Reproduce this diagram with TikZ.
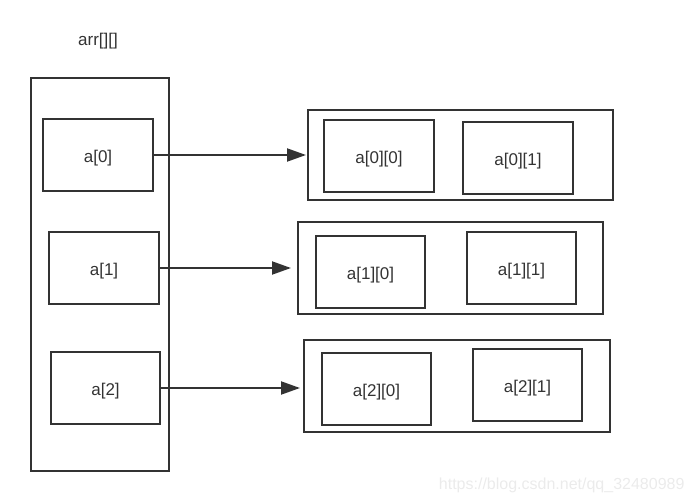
\documentclass[tikz,border=0pt]{standalone}
\usepackage{fontspec}
\setmainfont{Liberation Sans}
\usetikzlibrary{arrows.meta}
\definecolor{ink}{HTML}{333333}
\tikzset{
  box/.style={draw=ink, line width=2pt, inner sep=0pt, text=ink, font=\fontsize{17}{20}\selectfont},
  cell/.style={box, minimum width=110pt, minimum height=72pt, text height=14pt, text depth=0pt},
  arr/.style={draw=ink, line width=2pt, -{Triangle[length=19pt,width=13pt]}}
}
\begin{document}
\begin{tikzpicture}[x=1pt,y=-1pt]
\useasboundingbox (0,0) rectangle (696,503);
\node[text=ink, font=\fontsize{17}{20}\selectfont] (lbl) at (98,41) {arr[][]};
\node[box, minimum width=138pt, minimum height=392.5pt] (outer) at (99.5,274.75) {};
\node[cell] (a0) at (98,155) {a[0]};
\node[cell] (a1) at (104,268) {a[1]};
\node[cell, minimum width=109pt] (a2) at (105.5,388) {a[2]};
\node[box, minimum width=305pt, minimum height=90pt] (r0) at (460.5,155) {};
\node[cell] (a00) at (379,156) {a[0][0]};
\node[cell] (a01) at (518,158) {a[0][1]};
\node[box, minimum width=305pt, minimum height=92pt] (r1) at (450.5,268) {};
\node[cell, minimum width=109pt] (a10) at (370.5,272) {a[1][0]};
\node[cell, minimum width=109pt] (a11) at (521.5,268) {a[1][1]};
\node[box, minimum width=306pt, minimum height=92pt] (r2) at (457,386) {};
\node[cell, minimum width=109pt] (a20) at (376.5,389) {a[2][0]};
\node[cell, minimum width=109pt] (a21) at (527.5,385) {a[2][1]};
\draw[arr, shorten >=1pt] (a0.east) -- (a0.east -| r0.west);
\draw[arr, shorten >=6pt] (a1.east) -- (a1.east -| r1.west);
\draw[arr, shorten >=3pt] (a2.east) -- (a2.east -| r2.west);
\node[text=black!8, font=\fontsize{16}{19}\selectfont, anchor=east] (wm) at (688,485) {https://blog.csdn.net/qq\_32480989};
\end{tikzpicture}
\end{document}
